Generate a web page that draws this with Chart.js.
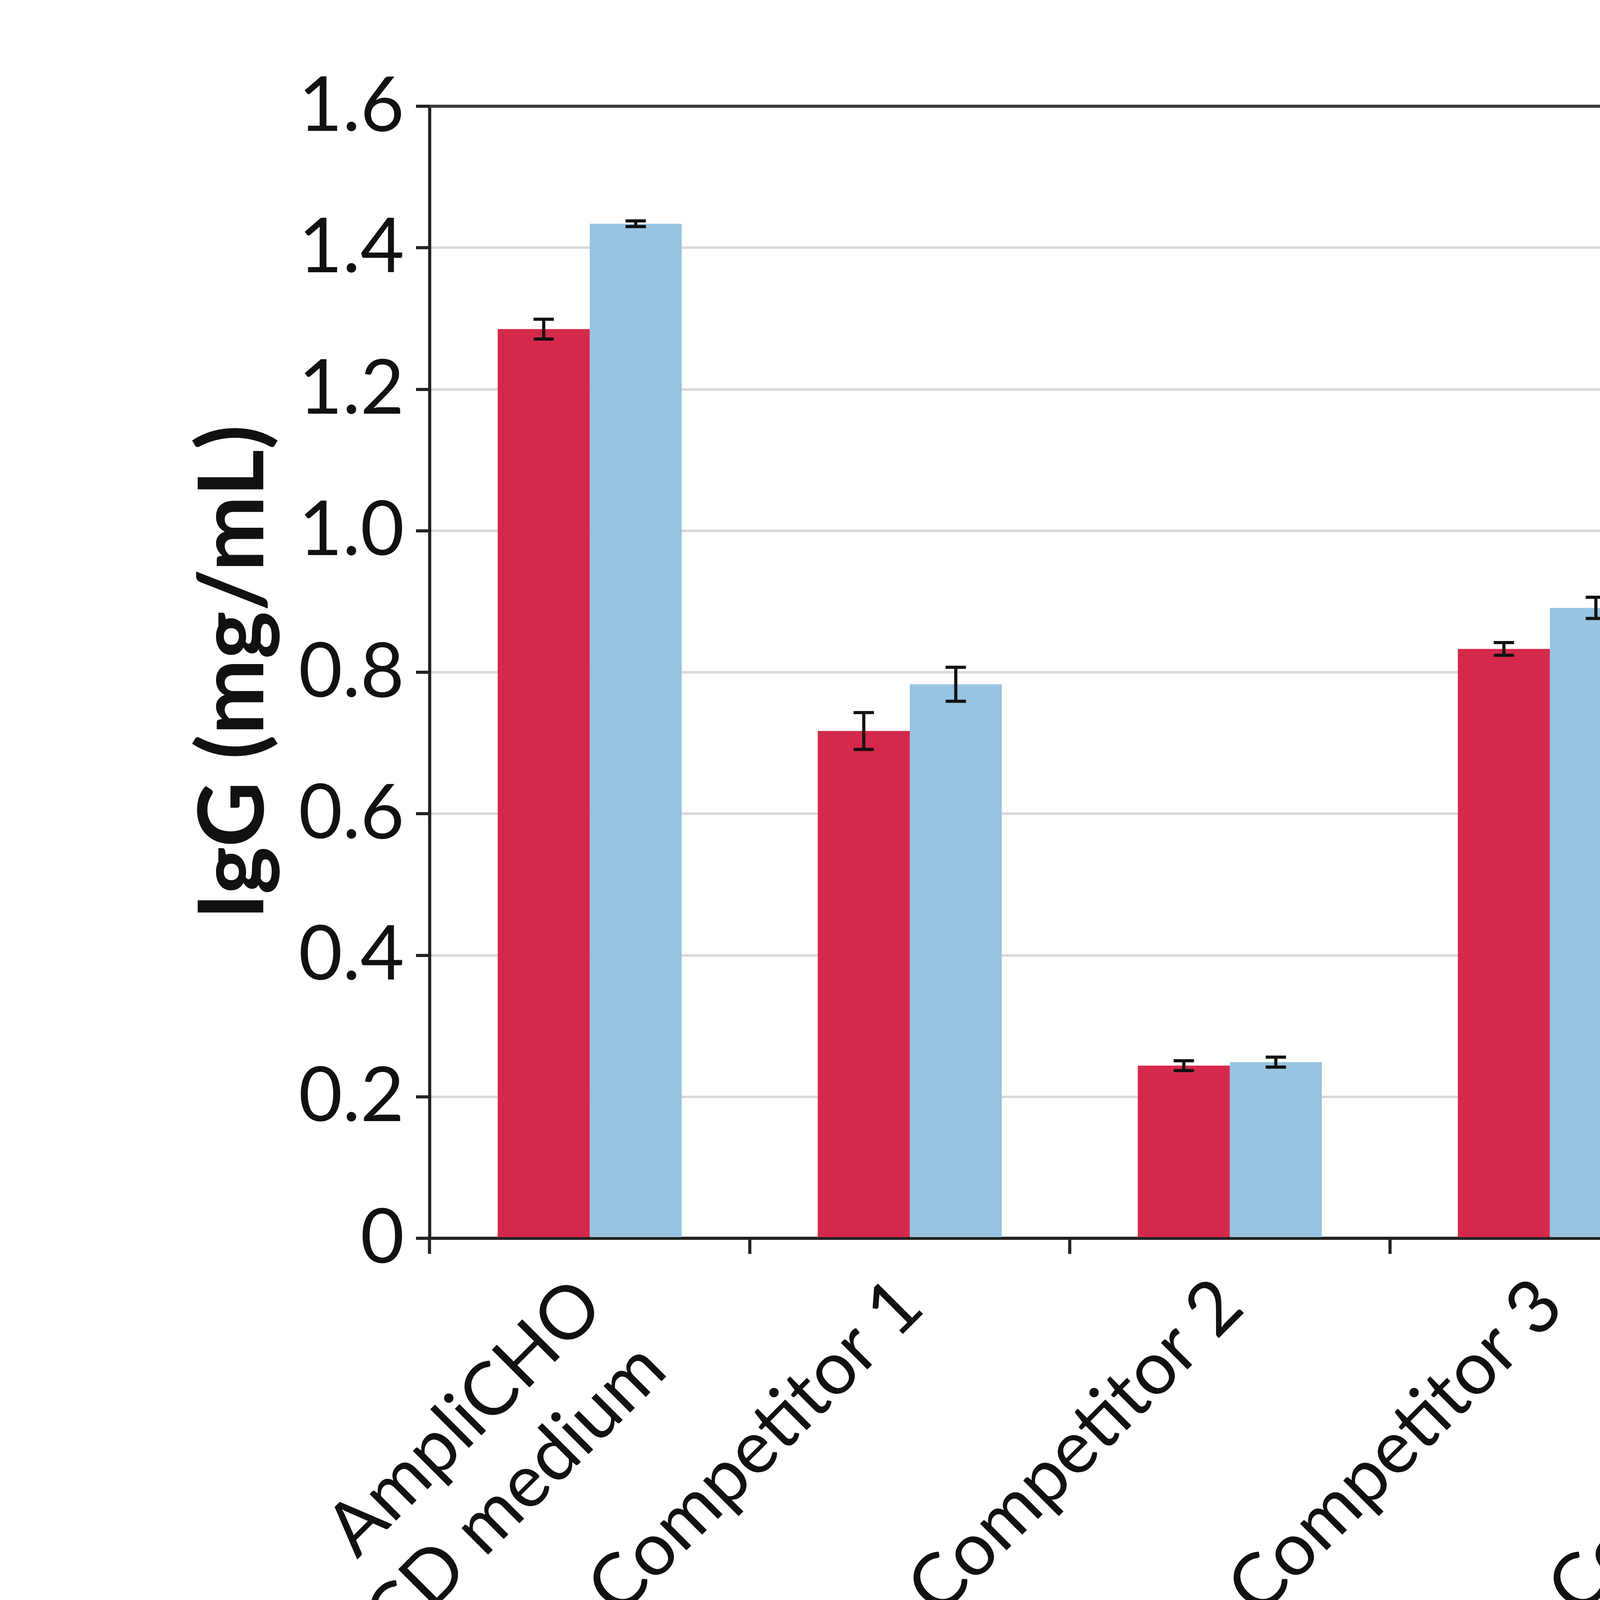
<!DOCTYPE html>
<html>
<head>
<meta charset="utf-8">
<script src="https://cdn.jsdelivr.net/npm/chart.js@4"></script>
<style>
  body { margin: 0; background: #fff; }
  #wrap { width: 6287px; height: 4715px; }
</style>
</head>
<body>
<div id="wrap"><canvas id="barChart" width="6287" height="4715"></canvas></div>
<script>
// values
const categories = [['AmpliCHO', 'CD medium'], 'Competitor 1', 'Competitor 2', 'Competitor 3', 'Competitor 4', 'Competitor 5'];
const seriesNames = ['Day 10', 'Day 12'];
const day10 = [1.285, 0.717, 0.244, 0.833, 1.058, 1.067];
const day12 = [1.434, 0.783, 0.249, 0.891, 1.120, 1.133];
const day10Err = [0.014, 0.026, 0.007, 0.009, 0.015, 0.006];
const day12Err = [0.004, 0.024, 0.007, 0.015, 0.006, 0.004];
const yTicks = [0, 0.2, 0.4, 0.6, 0.8, 1.0, 1.2, 1.4, 1.6];

const RED = '#d5294b';
const BLUE = '#97c4e1';
const FONT = 'Lato, "Open Sans", sans-serif';

const whiteBg = {
  id: 'whiteBg',
  beforeDraw(chart) {
    const c = chart.ctx;
    c.save();
    c.fillStyle = '#fff';
    c.fillRect(0, 0, chart.width, chart.height);
    c.restore();
  }
};

// top and right frame lines
const frame = {
  id: 'frame',
  afterDraw(chart) {
    const a = chart.chartArea, c = chart.ctx;
    c.save();
    c.strokeStyle = '#3a3a3a';
    c.lineWidth = 8;
    c.beginPath();
    c.moveTo(a.left, a.top);
    c.lineTo(a.right, a.top);
    c.lineTo(a.right, a.bottom);
    c.stroke();
    c.restore();
  }
};

// error bars from the y scale
const errorBars = {
  id: 'errorBars',
  afterDatasetsDraw(chart) {
    const c = chart.ctx, y = chart.scales.y;
    const errs = [day10Err, day12Err];
    c.save();
    c.strokeStyle = '#111';
    c.lineWidth = 8;
    chart.data.datasets.forEach((ds, i) => {
      chart.getDatasetMeta(i).data.forEach((bar, j) => {
        const v = ds.data[j], e = errs[i][j];
        const top = y.getPixelForValue(v + e), bot = y.getPixelForValue(v - e);
        const x = bar.x, cap = 26;
        c.beginPath();
        c.moveTo(x, top); c.lineTo(x, bot);
        c.moveTo(x - cap, top); c.lineTo(x + cap, top);
        c.moveTo(x - cap, bot); c.lineTo(x + cap, bot);
        c.stroke();
      });
    });
    c.restore();
  }
};

// legend inside the plot, top right
const boxLegend = {
  id: 'boxLegend',
  afterDraw(chart) {
    const c = chart.ctx;
    c.save();
    c.font = '168px ' + FONT;
    c.textBaseline = 'alphabetic';
    chart.data.datasets.forEach((ds, i) => {
      const top = 449 + i * 227;
      c.fillStyle = ds.backgroundColor;
      c.fillRect(5104, top, 131, 131);
      c.fillStyle = '#111';
      c.fillText(ds.label, 5319, top + 131);
    });
    c.restore();
  }
};

new Chart(document.getElementById('barChart'), {
  type: 'bar',
  data: {
    labels: categories,
    datasets: [
      { label: seriesNames[0], data: day10, backgroundColor: RED },
      { label: seriesNames[1], data: day12, backgroundColor: BLUE }
    ]
  },
  options: {
    responsive: false,
    devicePixelRatio: 1,
    animation: false,
    categoryPercentage: 0.575,
    barPercentage: 1.0,
    layout: { padding: { top: 272, right: 271, left: 0, bottom: 0 } },
    plugins: {
      legend: { display: false },
      tooltip: { enabled: false }
    },
    scales: {
      x: {
        afterFit(scale) { scale.height = 4715 - 3170; },
        grid: { drawOnChartArea: false, drawTicks: true, tickLength: 40, tickColor: '#222', tickWidth: 8 },
        border: { display: true, color: '#222', width: 8 },
        ticks: {
          color: '#111',
          font: { family: FONT, size: 190 },
          minRotation: 45,
          maxRotation: 45,
          padding: 20,
          autoSkip: false
        }
      },
      y: {
        min: 0,
        max: 1.6,
        afterFit(scale) { scale.width = 1100; },
        afterBuildTicks(scale) { scale.ticks = yTicks.map(v => ({ value: v })); },
        grid: {
          color: ctx => (ctx.tick && (ctx.tick.value === 0 || ctx.tick.value === 1.6)) ? 'rgba(0,0,0,0)' : '#d8d8d8',
          lineWidth: 6,
          tickLength: 35,
          tickColor: '#222',
          tickWidth: 8
        },
        border: { display: true, color: '#222', width: 8 },
        ticks: {
          color: '#111',
          font: { family: FONT, size: 194 },
          padding: 30,
          callback: v => v === 0 ? '0' : Number(v).toFixed(1)
        },
        title: {
          display: true,
          text: 'IgG (mg/mL)',
          color: '#111',
          font: { family: FONT, size: 232, weight: 'bold', lineHeight: 1.2 },
          padding: { top: 460, bottom: 0 }
        }
      }
    }
  },
  plugins: [whiteBg, errorBars, frame, boxLegend]
});
</script>
</body>
</html>
